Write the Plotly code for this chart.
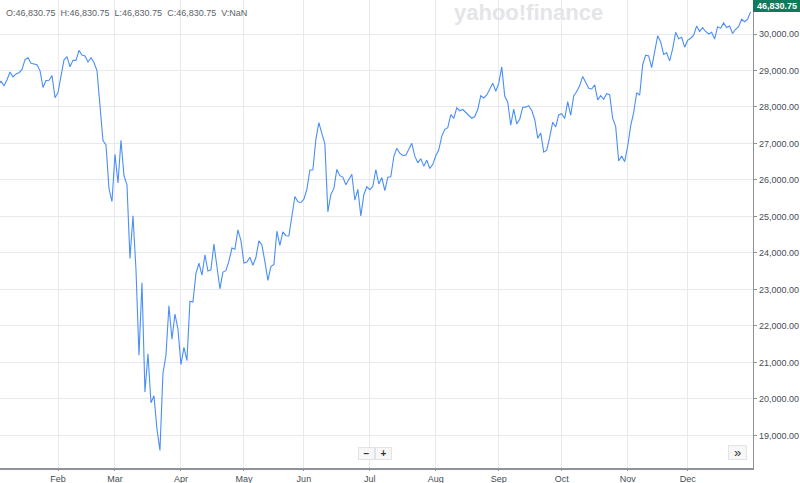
import pandas as pd
import plotly.graph_objects as go

# Dow Jones closes 2020, one list per month (trading days)
jan = [28868.80, 28634.88, 28703.38, 28583.68, 28745.09, 28956.90, 28823.77, 28907.05, 28939.67, 29030.22,
       29297.64, 29348.10, 29196.04, 29186.27, 29160.09, 28989.73, 28535.80, 28722.85, 28734.45, 28859.44, 28256.03]
feb = [28399.81, 28807.63, 29290.85, 29379.77, 29102.51, 29276.82, 29276.34, 29551.42, 29423.31, 29398.08,
       29232.19, 29348.03, 29219.98, 28992.41, 27960.80, 27081.36, 26957.59, 25766.64, 25409.36]
mar = [26703.32, 25917.41, 27090.86, 26121.28, 25864.78, 23851.02, 25018.16, 23553.22, 21200.62, 23185.62,
       20188.52, 21237.38, 19898.92, 20087.19, 19173.98, 18591.93, 20704.91, 21200.55, 22552.17, 21636.78,
       22327.48, 21917.16]
apr = [20943.51, 21413.44, 21052.53, 22679.99, 22653.86, 23433.57, 23719.37, 23390.77, 23949.76, 23504.35,
       23537.68, 24242.49, 23650.44, 23018.88, 23475.82, 23515.26, 23775.27, 24133.78, 24101.55, 24633.86, 24345.72]
may = [23723.69, 23749.76, 23883.09, 23664.64, 23875.89, 24331.32, 24221.99, 23764.78, 23247.97, 23625.34,
       23685.42, 24597.37, 24206.86, 24575.90, 24474.12, 24465.16, 24995.11, 25548.27, 25400.64, 25383.11]
jun = [25475.02, 25742.65, 26269.89, 26281.82, 27110.98, 27572.44, 27272.30, 26989.99, 25128.17, 25605.54,
       25763.16, 26289.98, 26119.61, 26080.10, 25871.46, 26024.96, 26156.10, 25445.94, 25745.60, 25015.55,
       25595.80, 25812.88]
jul = [25734.97, 25827.36, 26287.03, 25890.18, 26067.28, 25706.09, 26075.30, 26085.80, 26642.59, 26870.10,
       26734.71, 26671.95, 26680.87, 26840.40, 27005.84, 26652.33, 26469.89, 26584.77, 26379.28, 26539.57,
       26313.65, 26428.32]
aug = [26664.40, 26828.47, 27201.52, 27386.98, 27433.48, 27791.44, 27686.91, 27976.84, 27896.72, 27931.02,
       27844.91, 27778.07, 27692.88, 27739.73, 27930.33, 28308.46, 28248.44, 28331.92, 28492.27, 28653.87, 28430.05]
sep = [28645.66, 29100.50, 28292.73, 28133.31, 27500.89, 27940.47, 27534.58, 27665.64, 27993.33, 27995.60,
       28032.38, 27901.98, 27657.42, 27147.70, 27288.18, 26763.13, 26815.44, 27173.96, 27584.06, 27452.66, 27781.70]
oct = [27816.90, 27682.81, 28148.64, 27772.76, 28303.46, 28425.51, 28586.90, 28837.52, 28679.81, 28514.00,
       28494.20, 28606.31, 28195.42, 28308.79, 28210.82, 28363.66, 28335.57, 27685.38, 27463.19, 26519.95,
       26659.11, 26501.60]
nov = [26925.05, 27480.03, 27847.66, 28390.18, 28323.40, 29157.97, 29420.92, 29397.63, 29080.17, 29479.81,
       29950.44, 29783.35, 29438.42, 29483.23, 29263.48, 29591.27, 30046.24, 29872.47, 29910.37, 29638.64]
dec = [29823.92, 29883.79, 29969.52, 30218.26, 30069.79, 30173.88, 30068.81, 29999.26, 30046.37, 29861.55,
       30199.31, 30154.54, 30303.37, 30179.05, 30216.45, 30015.51, 30129.83, 30199.87, 30403.97, 30335.67,
       30409.56, 30606.48]

holidays = ['2020-01-01', '2020-01-20', '2020-02-17', '2020-04-10', '2020-05-25',
            '2020-07-03', '2020-09-07', '2020-11-26', '2020-12-25']
month_labels = ['Feb', 'Mar', 'Apr', 'May', 'Jun', 'Jul', 'Aug', 'Sep', 'Oct', 'Nov', 'Dec']
last_label = '46,830.75'

closes = jan + feb + mar + apr + may + jun + jul + aug + sep + oct + nov + dec
days = pd.bdate_range('2020-01-02', '2020-12-31')
days = [d for d in days if d.strftime('%Y-%m-%d') not in holidays]
assert len(days) == len(closes)
dates = [d.strftime('%Y-%m-%d') for d in days]

# first trading day of each month Feb..Dec
firsts = []
seen = set()
for d in days:
    if d.month not in seen:
        seen.add(d.month)
        firsts.append(d.strftime('%Y-%m-%d'))
firsts = firsts[1:]

grid = '#e8e9ec'
axis_col = '#8e9399'
txt = '#464e56'
font = 'Liberation Sans'

fig = go.Figure()
fig.add_trace(go.Scatter(x=dates, y=closes, mode='lines',
                         line=dict(color='#4a8ff6', width=1.1), hoverinfo='x+y'))

fig.update_layout(
    width=800, height=483, autosize=False,
    margin=dict(l=0, r=47, t=0, b=15),
    paper_bgcolor='white', plot_bgcolor='white',
    showlegend=False,
    font=dict(family=font, size=9, color=txt),
    xaxis=dict(type='category', range=[1.65, 252.8],
               tickmode='array', tickvals=firsts, ticktext=month_labels,
               showgrid=True, gridcolor=grid, gridwidth=1,
               showline=True, linecolor=axis_col, linewidth=1.5,
               ticks='outside', ticklen=1, tickcolor=axis_col,
               tickfont=dict(family=font, size=9, color=txt),
               zeroline=False, automargin=False),
    yaxis=dict(side='right', range=[18109, 30931.5], dtick=1000, tick0=19000,
               tickformat=',.2f', showgrid=True, gridcolor=grid, gridwidth=1,
               showline=True, linecolor=axis_col, linewidth=1.2,
               ticks='outside', ticklen=3, tickcolor=axis_col,
               tickfont=dict(family=font, size=9, color=txt),
               zeroline=False, automargin=False),
)

# header OHLC text
fig.add_annotation(xref='paper', yref='paper', x=0.005, y=1 - 13 / 468,
                   xanchor='left', yanchor='middle', showarrow=False,
                   text='O:46,830.75  H:46,830.75  L:46,830.75  C:46,830.75  V:NaN',
                   font=dict(family=font, size=9, color='#5b636a'))

# watermark
fig.add_annotation(xref='paper', yref='paper', x=528 / 753, y=1 - 12 / 468,
                   xanchor='center', yanchor='middle', showarrow=False,
                   text='<b>yahoo!finance</b>',
                   font=dict(family=font, size=22, color='#e4e5e8'))

# last price tag
fig.add_shape(type='rect', xref='paper', yref='paper', x0=1, x1=800 / 753,
              y0=1 - 12 / 468, y1=1, fillcolor='#107a5b', line_width=0, layer='above')
fig.add_annotation(xref='paper', yref='paper', x=776.5 / 753, y=1 - 6 / 468,
                   xanchor='center', yanchor='middle', showarrow=False,
                   text='<b>' + last_label + '</b>',
                   font=dict(family=font, size=9, color='white'))

# zoom buttons
for label, cx in [('−', 366), ('+', 383)]:
    fig.add_annotation(xref='paper', yref='paper', x=cx / 753, y=(468 - 453.5) / 468,
                       xanchor='center', yanchor='middle', showarrow=False,
                       text='<b>' + label + '</b>', width=13, height=9,
                       bgcolor='#f7f7f8', bordercolor='#e2e3e6', borderwidth=1, borderpad=1,
                       font=dict(family=font, size=10, color='#333'))
fig.add_annotation(xref='paper', yref='paper', x=737.5 / 753, y=(468 - 452) / 468,
                   xanchor='center', yanchor='middle', showarrow=False,
                   text='»', width=15, height=11,
                   bgcolor='#f7f7f8', bordercolor='#e2e3e6', borderwidth=1, borderpad=1,
                   font=dict(family=font, size=13, color='#333'))

fig.write_html("out.html", config={'displayModeBar': False},
               post_script="document.body.style.margin='0';")
